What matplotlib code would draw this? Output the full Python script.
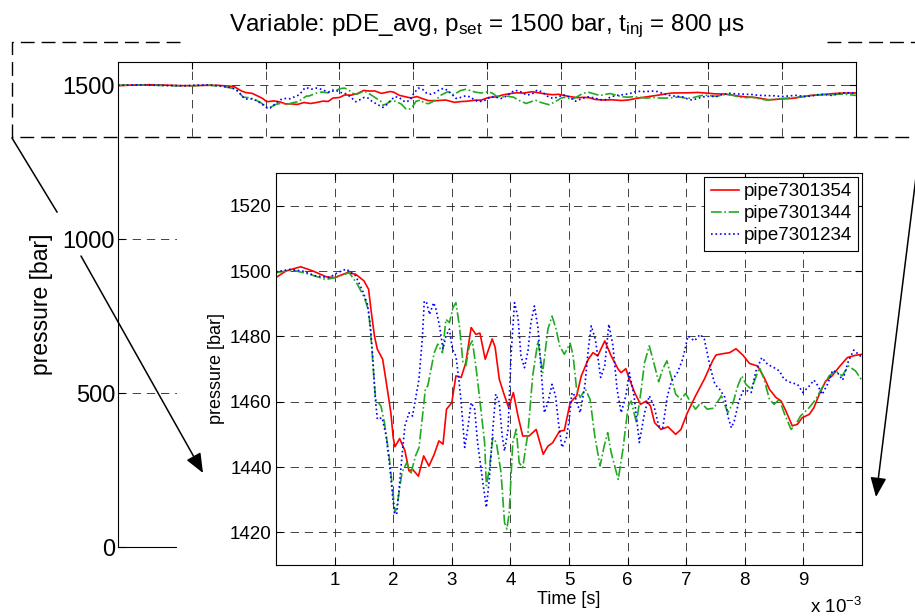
import numpy as np
import matplotlib.pyplot as plt
from matplotlib.patches import Rectangle, FancyArrowPatch
from matplotlib.lines import Line2D

plt.rcParams['font.family'] = ['Liberation Sans', 'DejaVu Sans']
plt.rcParams['mathtext.fontset'] = 'custom'
plt.rcParams['mathtext.rm'] = 'Liberation Sans'
plt.rcParams['mathtext.default'] = 'regular'

# ---- data (time in ms, pressure in bar) ----
t_red = [0.0, 0.17, 0.42, 0.63, 0.86, 1.0, 1.22, 1.36, 1.5, 1.58, 1.62, 1.68, 1.73, 1.82,
         1.9, 1.96, 2.0, 2.03, 2.11, 2.2, 2.27, 2.33, 2.43, 2.52, 2.61, 2.70, 2.78, 2.85,
         2.91, 3.0, 3.07, 3.16, 3.24, 3.33, 3.41, 3.48, 3.57, 3.69, 3.74, 3.81, 3.9, 3.97,
         4.05, 4.13, 4.21, 4.32, 4.44, 4.56, 4.64, 4.72, 4.84, 4.92, 5.02, 5.13, 5.21, 5.33,
         5.41, 5.49, 5.61, 5.72, 5.84, 5.89, 5.97, 6.03, 6.12, 6.22, 6.32, 6.39, 6.46, 6.57,
         6.69, 6.82, 6.91, 7.02, 7.16, 7.31, 7.45, 7.51, 7.63, 7.74, 7.85, 7.97, 8.08, 8.22,
         8.33, 8.42, 8.53, 8.62, 8.7, 8.81, 8.9, 8.98, 9.1, 9.18, 9.27, 9.38, 9.49, 9.6,
         9.75, 9.89, 10.0]
p_red = [1498.0, 1500.0, 1501.3, 1500.0, 1498.2, 1498.0, 1499.5, 1499.0, 1497.0, 1494.4,
         1488.3, 1480.1, 1476.0, 1473.0, 1463.8, 1456.6, 1449.0, 1446.2, 1448.7, 1445.0,
         1438.8, 1439.3, 1437.2, 1443.4, 1440.3, 1443.9, 1448.0, 1447.0, 1457.7, 1459.7,
         1467.9, 1467.4, 1472.0, 1482.7, 1480.6, 1481.0, 1473.0, 1479.2, 1476.6, 1466.9,
         1461.8, 1458.2, 1462.8, 1455.6, 1449.5, 1449.5, 1451.5, 1443.9, 1446.4, 1447.4,
         1451.0, 1451.2, 1459.7, 1461.8, 1467.9, 1473.0, 1475.0, 1474.0, 1478.6, 1474.0,
         1469.9, 1468.9, 1470.1, 1466.9, 1462.8, 1459.2, 1460.2, 1458.7, 1453.6, 1451.5,
         1452.3, 1450.0, 1451.5, 1456.6, 1461.8, 1466.9, 1472.5, 1474.3, 1474.7, 1475.0,
         1476.2, 1474.2, 1471.7, 1470.9, 1467.4, 1463.8, 1461.3, 1460.2, 1457.2, 1452.6,
         1453.1, 1455.1, 1456.1, 1458.2, 1462.2, 1466.3, 1467.9, 1470.4, 1473.5, 1474.2,
         1474.5]

t_green = [0.0, 0.28, 0.57, 0.85, 1.02, 1.25, 1.39, 1.51, 1.58, 1.62, 1.66, 1.7, 1.79, 1.85,
           1.93, 1.99, 2.03, 2.07, 2.15, 2.23, 2.3, 2.38, 2.44, 2.5, 2.55, 2.59, 2.70, 2.76,
           2.84, 2.9, 2.96, 3.02, 3.07, 3.13, 3.19, 3.24, 3.30, 3.35, 3.41, 3.47, 3.56, 3.59,
           3.64, 3.70, 3.76, 3.84, 3.9, 3.94, 3.98, 4.04, 4.1, 4.15, 4.21, 4.3, 4.38, 4.47,
           4.55, 4.64, 4.71, 4.78, 4.84, 4.92, 5.02, 5.07, 5.13, 5.19, 5.28, 5.36, 5.44, 5.53,
           5.6, 5.66, 5.72, 5.84, 5.92, 6.01, 6.06, 6.15, 6.21, 6.29, 6.37, 6.46, 6.53, 6.6,
           6.67, 6.74, 6.82, 6.91, 6.99, 7.08, 7.16, 7.25, 7.36, 7.47, 7.6, 7.71, 7.8, 7.88,
           7.95, 8.02, 8.11, 8.25, 8.33, 8.42, 8.5, 8.59, 8.67, 8.79, 8.87, 8.95, 9.1, 9.21,
           9.32, 9.44, 9.55, 9.66, 9.77, 9.89, 10.0]
p_green = [1499.5, 1500.3, 1499.0, 1497.4, 1498.0, 1499.5, 1495.9, 1491.8, 1487.8, 1480.1,
           1469.9, 1460.7, 1458.7, 1453.6, 1443.4, 1433.2, 1426.0, 1428.6, 1438.3, 1441.3,
           1437.8, 1443.4, 1445.9, 1455.6, 1464.0, 1464.8, 1475.0, 1477.6, 1475.0, 1485.2,
           1484.2, 1488.8, 1490.3, 1483.2, 1472.0, 1471.0, 1477.1, 1478.6, 1471.0, 1461.8,
           1447.5, 1434.3, 1439.3, 1449.0, 1447.5, 1438.3, 1423.0, 1421.0, 1426.0, 1447.5,
           1451.5, 1441.3, 1439.8, 1450.5, 1467.9, 1478.6, 1468.9, 1482.2, 1486.2, 1482.2,
           1477.1, 1474.5, 1477.9, 1474.0, 1463.8, 1461.3, 1463.8, 1460.7, 1449.5, 1440.3,
           1446.4, 1450.5, 1444.4, 1436.2, 1445.4, 1458.7, 1460.2, 1453.6, 1460.7, 1472.0,
           1477.1, 1471.0, 1466.1, 1470.0, 1472.5, 1467.9, 1462.3, 1460.7, 1462.5, 1459.7,
           1457.7, 1459.7, 1457.7, 1458.0, 1461.8, 1456.6, 1459.7, 1464.8, 1467.9, 1465.3,
           1463.8, 1470.4, 1466.9, 1460.7, 1459.2, 1460.7, 1456.6, 1451.5, 1453.0, 1455.6,
           1458.2, 1460.7, 1464.3, 1467.9, 1469.4, 1467.9, 1470.9, 1469.4, 1466.5]

t_blue = [0.0, 0.23, 0.45, 0.68, 0.91, 1.05, 1.2, 1.36, 1.49, 1.56, 1.61, 1.65, 1.69, 1.73,
          1.81, 1.88, 1.94, 1.99, 2.02, 2.06, 2.1, 2.15, 2.2, 2.27, 2.33, 2.39, 2.44, 2.5,
          2.53, 2.57, 2.62, 2.69, 2.73, 2.79, 2.85, 2.9, 2.96, 3.01, 3.07, 3.12, 3.16, 3.22,
          3.27, 3.33, 3.39, 3.44, 3.53, 3.59, 3.64, 3.7, 3.75, 3.81, 3.86, 3.9, 3.96, 4.01,
          4.07, 4.13, 4.18, 4.24, 4.3, 4.35, 4.41, 4.47, 4.52, 4.58, 4.64, 4.71, 4.77, 4.82,
          4.88, 4.95, 5.0, 5.05, 5.1, 5.19, 5.27, 5.33, 5.38, 5.45, 5.54, 5.61, 5.68, 5.75,
          5.82, 5.89, 5.97, 6.03, 6.11, 6.2, 6.29, 6.37, 6.45, 6.53, 6.6, 6.68, 6.75, 6.85,
          6.94, 7.03, 7.14, 7.24, 7.31, 7.41, 7.49, 7.57, 7.66, 7.71, 7.77, 7.82, 7.9, 7.97,
          8.05, 8.11, 8.19, 8.29, 8.39, 8.5, 8.59, 8.67, 8.79, 8.9, 8.99, 9.1, 9.18, 9.25,
          9.32, 9.41, 9.5, 9.58, 9.67, 9.77, 9.86, 10.0]
p_blue = [1499.7, 1500.5, 1500.0, 1498.5, 1498.0, 1499.5, 1500.6, 1498.5, 1493.4, 1489.8,
          1483.2, 1474.0, 1461.8, 1454.6, 1455.1, 1449.5, 1440.3, 1431.1, 1426.0, 1425.5,
          1433.2, 1443.4, 1452.6, 1456.6, 1455.6, 1461.8, 1466.9, 1480.1, 1490.8, 1490.3,
          1486.7, 1490.3, 1488.3, 1483.2, 1476.1, 1480.1, 1482.2, 1476.1, 1474.0, 1466.9,
          1459.7, 1446.0, 1451.5, 1459.7, 1457.7, 1447.5, 1435.2, 1427.6, 1436.2, 1451.5,
          1462.3, 1459.7, 1449.5, 1444.9, 1451.5, 1474.0, 1490.3, 1485.7, 1474.0, 1470.4,
          1475.5, 1484.2, 1489.3, 1482.7, 1470.9, 1456.6, 1459.7, 1465.3, 1461.8, 1453.6,
          1446.0, 1448.5, 1454.0, 1462.8, 1461.8, 1456.6, 1464.8, 1476.1, 1483.2, 1479.1,
          1467.4, 1471.0, 1483.7, 1477.1, 1463.8, 1456.6, 1461.8, 1468.9, 1461.8, 1447.5,
          1456.6, 1461.8, 1458.7, 1452.6, 1452.0, 1461.8, 1466.3, 1468.9, 1473.0, 1480.1,
          1478.6, 1480.6, 1479.1, 1470.5, 1465.3, 1463.8, 1461.3, 1455.6, 1452.0, 1454.1,
          1460.2, 1463.3, 1463.3, 1462.8, 1469.4, 1473.5, 1471.4, 1470.4, 1469.4, 1466.9,
          1465.8, 1465.3, 1462.8, 1464.8, 1466.6, 1464.8, 1462.2, 1465.3, 1469.6, 1468.9,
          1466.6, 1472.5, 1475.8, 1473.5]

names = ['pipe7301354', 'pipe7301344', 'pipe7301234']
colors = ['#ff0000', '#22aa22', '#0000ff']
styles = ['-', '-.', ':']
series = [(t_red, p_red), (t_green, p_green), (t_blue, p_blue)]

W, H = 915, 616
fig = plt.figure(figsize=(W / 100, H / 100), dpi=100)

def fx(px):
    return px / W

def fy(py):
    return 1 - py / H

grid_kw = dict(color='#222222', linewidth=0.6, linestyle=(0, (10, 7)))

# ---- main (overview) axes ----
ax = fig.add_axes([fx(118), fy(547), (856 - 118) / W, (547 - 62) / H])
ax.patch.set_facecolor('none')
for (t, p), c, ls in zip(series, colors, styles):
    ax.plot(np.array(t) * 1e-3, p, color=c, linestyle=ls, linewidth=1.2)
ax.set_xlim(0, 0.01)
ax.set_ylim(0, 1575)
ax.set_xticks(np.arange(1, 10) * 1e-3)
ax.set_xticklabels([])
ax.set_yticks([0, 500, 1000, 1500])
ax.tick_params(direction='in', top=True, right=True, labelsize=17, length=5, pad=2)
ax.grid(True, **grid_kw)
for s in ax.spines.values():
    s.set_linewidth(0.8)
ax.set_ylabel('pressure [bar]', fontsize=16.5)
ax.yaxis.set_label_coords(-0.088, 0.5)

fig.text(fx(487), fy(31), 'Variable: pDE_avg, $p_{set}$ = 1500 bar, $t_{inj}$ = 800 μs',
         ha='center', va='baseline', fontsize=17.5)

# white cover over the overview area
fig.add_artist(Rectangle((fx(177), 0), 1 - fx(177), fy(138), transform=fig.transFigure,
                         facecolor='white', edgecolor='none', zorder=1))

# dashed zoom box
box_kw = dict(transform=fig.transFigure, color='black', linewidth=1.0,
              linestyle=(0, (10, 5)), zorder=2)
fig.add_artist(Line2D([fx(180), fx(12), fx(12), fx(925)],
                      [fy(42), fy(42), fy(137), fy(137)], **box_kw))
fig.add_artist(Line2D([fx(827), fx(925)], [fy(42), fy(42)], **box_kw))

# ---- inset (zoomed) axes ----
ax2 = fig.add_axes([fx(276), fy(565), 586 / W, 392 / H])
ax2.set_zorder(3)
for (t, p), c, ls, n in zip(series, colors, styles, names):
    ax2.plot(np.array(t) * 1e-3, p, color=c, linestyle=ls, linewidth=1.2, label=n)
ax2.set_xlim(0, 0.01)
ax2.set_ylim(1410, 1530)
ax2.set_xticks(np.arange(1, 10) * 1e-3)
ax2.set_xticklabels([str(i) for i in range(1, 10)])
ax2.set_yticks(np.arange(1420, 1521, 20))
ax2.tick_params(direction='in', top=True, right=True, labelsize=13.5, length=5)
ax2.tick_params(axis='y', pad=3)
ax2.tick_params(axis='x', pad=5)
ax2.grid(True, **grid_kw)
for s in ax2.spines.values():
    s.set_linewidth(0.8)
ax2.set_ylabel('pressure [bar]', fontsize=13)
ax2.yaxis.set_label_coords(-0.087, 0.5)
ax2.set_xlabel('Time [s]', fontsize=13)
ax2.xaxis.set_label_coords(0.5, -0.066)
leg = ax2.legend(loc='upper right', fontsize=13.5, handlelength=1.5, handletextpad=0.25,
                 labelspacing=0.25, borderpad=0.35, borderaxespad=0.2, fancybox=False,
                 framealpha=1, edgecolor='black')
leg.get_frame().set_linewidth(0.8)
fig.text(fx(862), fy(613), 'x 10$^{-3}$', ha='right', va='baseline', fontsize=13.5, zorder=4)

# ---- arrows from zoom box to inset ----
arr_kw = dict(transform=fig.transFigure, color='black', linewidth=1.1, zorder=4)
fig.add_artist(Line2D([fx(12), fx(57)], [fy(138), fy(212)], **arr_kw))
fig.add_artist(FancyArrowPatch((fx(81), fy(256)), (fx(203), fy(473)),
                               arrowstyle='-|>,head_length=0.85,head_width=0.35',
                               mutation_scale=14, shrinkA=0, shrinkB=0, **arr_kw))
fig.add_artist(FancyArrowPatch((fx(921), fy(137)), (fx(876), fy(497)),
                               arrowstyle='-|>,head_length=0.85,head_width=0.35',
                               mutation_scale=14, shrinkA=0, shrinkB=0, **arr_kw))

fig.savefig('out.png', dpi=100)
